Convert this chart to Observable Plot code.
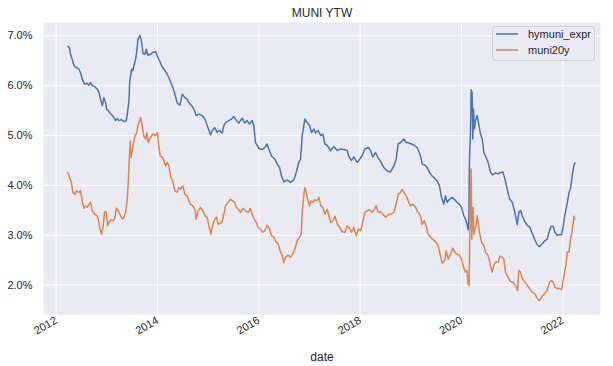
<!DOCTYPE html>
<html><head><meta charset="utf-8">
<script src="https://cdn.jsdelivr.net/npm/d3@7"></script>
<script src="https://cdn.jsdelivr.net/npm/@observablehq/plot@0.6"></script>
<style>
body{margin:0;background:#fff;}
#chart svg{font-family:"Liberation Sans",Arial,sans-serif;}
</style>
</head><body><div id="chart"></div>
<script>
const title = "MUNI YTW";
const xLabel = "date";
const seriesNames = ["hymuni_expr", "muni20y"];
const seriesColors = ["#4C72B0", "#DD8452"];
const yTicks = [2, 3, 4, 5, 6, 7];
const xTickYears = [2012, 2014, 2016, 2018, 2020, 2022];

// hymuni_expr: decimal-year dates and yields (%)
const hyT = [2012.230,2012.263,2012.283,2012.316,2012.349,2012.395,2012.448,2012.480,2012.513,2012.559,2012.612,2012.645,2012.678,2012.711,2012.763,2012.809,2012.842,2012.875,2012.908,2012.941,2012.974,2012.994,2013.026,2013.059,2013.105,2013.138,2013.171,2013.204,2013.237,2013.283,2013.336,2013.382,2013.415,2013.434,2013.448,2013.461,2013.487,2013.513,2013.540,2013.566,2013.586,2013.612,2013.651,2013.684,2013.711,2013.750,2013.776,2013.809,2013.862,
2013.908,2013.960,2013.993,2014.039,2014.079,2014.125,2014.191,2014.237,2014.289,2014.342,2014.388,2014.441,2014.487,2014.539,2014.585,2014.618,2014.671,2014.717,2014.763,2014.816,2014.881,2014.934,2014.980,2015.046,2015.079,2015.131,2015.177,2015.224,2015.276,2015.309,2015.342,2015.408,2015.460,2015.506,2015.552,
2015.605,2015.671,2015.723,2015.769,2015.815,2015.868,2015.901,2015.934,2016.000,2016.065,2016.118,2016.164,2016.197,2016.250,2016.315,2016.361,2016.407,2016.447,2016.493,2016.559,2016.625,2016.690,2016.736,2016.789,2016.822,2016.855,2016.907,2016.953,2017.000,2017.039,2017.085,2017.118,2017.171,2017.217,2017.263,2017.302,2017.348,
2017.415,2017.480,2017.546,2017.612,2017.678,2017.744,2017.777,2017.829,2017.875,2017.941,2017.987,2018.040,2018.092,2018.158,2018.204,2018.250,2018.303,2018.355,2018.402,2018.467,2018.533,2018.599,2018.665,2018.711,2018.750,2018.796,2018.862,2018.908,2018.961,2019.013,2019.059,2019.125,
2019.191,2019.224,2019.276,2019.322,2019.368,2019.421,2019.474,2019.520,2019.566,2019.605,2019.651,2019.684,2019.717,2019.763,2019.816,2019.868,2019.914,2019.960,2020.000,2020.046,2020.079,2020.112,2020.131,2020.145,2020.158,2020.178,2020.191,2020.210,2020.224,2020.237,2020.256,2020.276,2020.309,2020.342,2020.375,2020.408,2020.441,2020.487,2020.526,2020.572,2020.618,2020.671,2020.724,2020.770,2020.816,2020.855,2020.901,
2020.948,2021.001,2021.053,2021.099,2021.132,2021.165,2021.198,2021.251,2021.297,2021.343,2021.395,2021.448,2021.494,2021.540,2021.593,2021.645,2021.691,2021.724,2021.770,2021.810,2021.843,2021.889,2021.935,2021.974,2022.001,2022.040,2022.086,2022.119,2022.152,2022.185,2022.218,2022.237];
const hyY = [6.79,6.75,6.62,6.53,6.41,6.36,6.33,6.26,6.13,6.03,6.05,6.01,6.06,6.00,5.98,5.93,5.86,5.73,5.60,5.76,5.65,5.53,5.50,5.45,5.40,5.36,5.30,5.34,5.30,5.32,5.28,5.30,5.53,5.70,6.06,6.16,6.33,6.30,6.43,6.53,6.67,6.93,7.01,6.87,6.65,6.63,6.73,6.61,6.63,
6.67,6.68,6.60,6.50,6.40,6.33,6.23,6.13,6.00,5.83,5.65,5.61,5.83,5.76,5.73,5.66,5.60,5.53,5.40,5.43,5.40,5.33,5.20,5.01,5.10,5.16,5.06,5.10,5.05,5.20,5.26,5.30,5.33,5.38,5.31,
5.25,5.35,5.25,5.30,5.23,5.30,5.20,4.86,4.74,4.72,4.76,4.83,4.73,4.59,4.53,4.43,4.36,4.19,4.07,4.11,4.06,4.11,4.26,4.46,4.53,5.00,5.33,5.26,5.20,5.06,5.13,5.05,5.10,5.00,5.03,4.83,4.80,
4.70,4.78,4.70,4.73,4.72,4.70,4.57,4.50,4.57,4.46,4.52,4.60,4.73,4.76,4.70,4.57,4.66,4.55,4.48,4.36,4.29,4.27,4.39,4.53,4.83,4.86,4.93,4.86,4.85,4.83,4.81,4.76,
4.59,4.43,4.41,4.36,4.26,4.19,4.14,4.09,3.99,3.76,3.62,3.79,3.66,3.72,3.76,3.71,3.66,3.62,3.56,3.39,3.32,3.22,3.11,3.26,4.50,5.06,5.92,5.86,4.93,5.53,5.13,5.30,5.40,5.23,5.03,4.93,4.66,4.56,4.46,4.26,4.21,4.25,4.23,4.26,4.27,4.13,3.93,
3.73,3.66,3.46,3.21,3.46,3.50,3.39,3.27,3.20,3.17,3.04,2.91,2.81,2.77,2.83,2.89,2.92,3.05,3.18,3.18,3.06,3.00,3.01,3.01,3.14,3.41,3.64,3.84,3.94,4.19,4.39,4.45];

// muni20y: decimal-year dates and yields (%)
const muT = [2012.230,2012.263,2012.296,2012.329,2012.369,2012.401,2012.448,2012.480,2012.513,2012.546,2012.579,2012.612,2012.645,2012.678,2012.711,2012.757,2012.809,2012.842,2012.862,2012.895,2012.921,2012.954,2012.987,2013.013,2013.040,2013.073,2013.119,2013.151,2013.184,2013.224,2013.270,2013.303,2013.336,2013.369,2013.401,2013.421,2013.441,2013.461,2013.474,2013.500,2013.526,2013.553,2013.579,2013.612,2013.645,2013.665,2013.698,2013.724,2013.763,2013.790,2013.816,2013.862,
2013.908,2013.960,2014.000,2014.026,2014.052,2014.092,2014.125,2014.158,2014.191,2014.224,2014.256,2014.302,2014.342,2014.388,2014.421,2014.454,2014.500,2014.539,2014.585,2014.618,2014.651,2014.697,2014.737,2014.763,2014.802,2014.849,2014.895,2014.934,2014.980,2015.013,2015.052,2015.092,2015.131,2015.164,2015.197,2015.243,2015.276,2015.309,2015.342,2015.395,2015.441,2015.487,2015.526,2015.552,
2015.592,2015.638,2015.684,2015.736,2015.789,2015.835,2015.868,2015.901,2015.947,2015.986,2016.032,2016.078,2016.118,2016.164,2016.197,2016.250,2016.296,2016.342,2016.381,2016.427,2016.460,2016.493,2016.526,2016.578,2016.625,2016.671,2016.710,2016.756,2016.802,2016.835,2016.855,2016.888,2016.907,2016.934,2016.960,2017.000,2017.026,2017.065,2017.105,2017.151,2017.184,2017.223,2017.263,2017.302,2017.348,
2017.415,2017.461,2017.500,2017.546,2017.592,2017.645,2017.698,2017.744,2017.790,2017.829,2017.875,2017.921,2017.961,2018.007,2018.040,2018.092,2018.138,2018.184,2018.237,2018.290,2018.316,2018.355,2018.402,2018.448,2018.500,2018.553,2018.599,2018.665,2018.711,2018.750,2018.796,2018.829,2018.862,2018.908,2018.948,2018.994,2019.040,2019.079,2019.125,
2019.191,2019.224,2019.263,2019.303,2019.342,2019.388,2019.434,2019.487,2019.539,2019.585,2019.618,2019.671,2019.697,2019.737,2019.783,2019.829,2019.868,2019.914,2019.960,2020.000,2020.046,2020.079,2020.112,2020.131,2020.151,2020.164,2020.178,2020.191,2020.204,2020.217,2020.230,2020.243,2020.263,2020.289,2020.309,2020.329,2020.355,2020.395,2020.441,2020.474,2020.526,2020.572,2020.605,2020.645,2020.684,2020.724,2020.756,2020.803,2020.835,2020.868,2020.921,
2020.968,2021.014,2021.066,2021.106,2021.132,2021.165,2021.198,2021.251,2021.297,2021.343,2021.395,2021.448,2021.494,2021.540,2021.593,2021.645,2021.691,2021.737,2021.777,2021.810,2021.843,2021.889,2021.935,2021.974,2022.001,2022.040,2022.066,2022.086,2022.119,2022.152,2022.185,2022.218,2022.237];
const muY = [4.26,4.16,4.07,3.86,3.82,3.89,3.86,3.89,3.69,3.54,3.59,3.56,3.62,3.66,3.49,3.42,3.39,3.26,3.12,3.02,3.16,3.47,3.46,3.19,3.26,3.31,3.29,3.32,3.54,3.49,3.39,3.32,3.36,3.46,3.72,4.06,4.53,4.89,4.56,4.69,4.86,5.00,5.03,5.20,5.30,5.36,5.20,5.00,4.93,5.06,4.86,4.96,
5.03,5.00,5.06,4.76,4.59,4.56,4.50,4.39,4.46,4.39,4.19,4.07,3.89,3.86,3.96,3.92,3.99,3.82,3.79,3.69,3.62,3.59,3.52,3.32,3.49,3.56,3.49,3.39,3.36,3.19,3.02,3.22,3.32,3.36,3.22,3.24,3.29,3.42,3.59,3.66,3.72,3.69,3.66,3.56,
3.52,3.46,3.54,3.49,3.46,3.54,3.42,3.34,3.26,3.16,3.12,3.06,3.09,3.20,3.16,2.99,2.96,2.86,2.83,2.66,2.60,2.45,2.56,2.60,2.56,2.63,2.72,2.89,2.96,3.02,3.46,3.82,3.96,3.86,3.72,3.59,3.69,3.66,3.71,3.69,3.76,3.59,3.56,3.42,3.52,
3.26,3.29,3.38,3.23,3.16,3.07,3.06,3.19,3.14,3.06,3.16,2.99,3.12,3.09,3.22,3.46,3.49,3.51,3.46,3.54,3.59,3.46,3.47,3.42,3.36,3.41,3.42,3.46,3.62,3.82,3.86,3.92,3.86,3.79,3.69,3.59,3.62,3.59,3.49,
3.39,3.22,3.29,3.19,3.02,2.96,2.92,2.87,2.80,2.59,2.44,2.49,2.69,2.52,2.62,2.74,2.66,2.62,2.60,2.52,2.35,2.26,2.29,2.02,1.99,3.06,3.32,4.33,2.92,3.46,3.56,3.02,3.12,3.19,3.39,3.26,3.06,2.86,2.79,2.66,2.60,2.39,2.26,2.42,2.47,2.46,2.58,2.56,2.52,2.26,2.15,
2.07,2.06,1.99,1.89,2.29,2.26,2.13,2.06,1.99,1.93,1.86,1.83,1.73,1.69,1.78,1.83,1.89,2.06,2.09,2.06,1.96,1.93,1.93,1.91,2.06,2.29,2.42,2.66,2.66,2.92,3.09,3.38,3.32];

function dec2date(t) {
  const y = Math.floor(t);
  const a = Date.UTC(y, 0, 1), b = Date.UTC(y + 1, 0, 1);
  return new Date(a + (t - y) * (b - a));
}
const data = [
  ...hyT.map((t, i) => ({date: dec2date(t), value: hyY[i], series: seriesNames[0]})),
  ...muT.map((t, i) => ({date: dec2date(t), value: muY[i], series: seriesNames[1]}))
];
const xTicks = xTickYears.map(y => new Date(Date.UTC(y, 0, 1)));
const textColor = "#262626";

const plot = Plot.plot({
  width: 613, height: 366,
  marginLeft: 43, marginRight: 13, marginTop: 22, marginBottom: 52,
  style: {fontFamily: "'Liberation Sans', Arial, sans-serif", fontSize: "11px", color: textColor, background: "white"},
  x: {type: "utc", domain: [dec2date(2011.749), dec2date(2022.744)]},
  y: {domain: [1.41, 7.267]},
  color: {domain: seriesNames, range: seriesColors},
  marks: [
    Plot.frame({fill: "#EAEAF2", stroke: "none"}),
    Plot.gridX(xTicks, {stroke: "white", strokeOpacity: 1, strokeWidth: 1}),
    Plot.gridY(yTicks, {stroke: "white", strokeOpacity: 1, strokeWidth: 1}),
    Plot.line(data, {x: "date", y: "value", z: "series", stroke: "series", strokeWidth: 1.5}),
    Plot.axisY(yTicks, {tickSize: 0, tickPadding: 11, tickFormat: d => d.toFixed(1) + "%", label: null, fill: textColor, fontSize: 11}),
    Plot.axisX(xTicks, {tickSize: 0, tickPadding: 5, tickRotate: -30, tickFormat: d3.utcFormat("%Y"), label: null, fill: textColor, fontSize: 11}),
    Plot.text([title], {text: d => d, frameAnchor: "top", dy: -6, lineAnchor: "bottom", fontSize: 12, fill: textColor}),
    Plot.text([xLabel], {text: d => d, frameAnchor: "bottom", dy: 38, lineAnchor: "top", fontSize: 12, fill: textColor})
  ]
});
document.getElementById("chart").appendChild(plot);

// legend inside the plot area (upper right)
const svg = d3.select(plot);
const lg = svg.append("g").attr("text-anchor", "start");
lg.append("rect").attr("x", 492.5).attr("y", 26.5).attr("width", 102).attr("height", 34).attr("rx", 3)
  .attr("fill", "#EAEAF2").attr("stroke", "#d0d0d0").attr("stroke-width", 1);
seriesNames.forEach((name, i) => {
  const yy = 34 + i * 16;
  lg.append("line").attr("x1", 496).attr("x2", 518).attr("y1", yy).attr("y2", yy)
    .attr("stroke", seriesColors[i]).attr("stroke-width", 1.5);
  lg.append("text").attr("x", 528).attr("y", yy).attr("dy", "0.35em").attr("text-anchor", "start")
    .attr("fill", textColor).attr("font-size", 11).text(name);
});
</script>
</body></html>
